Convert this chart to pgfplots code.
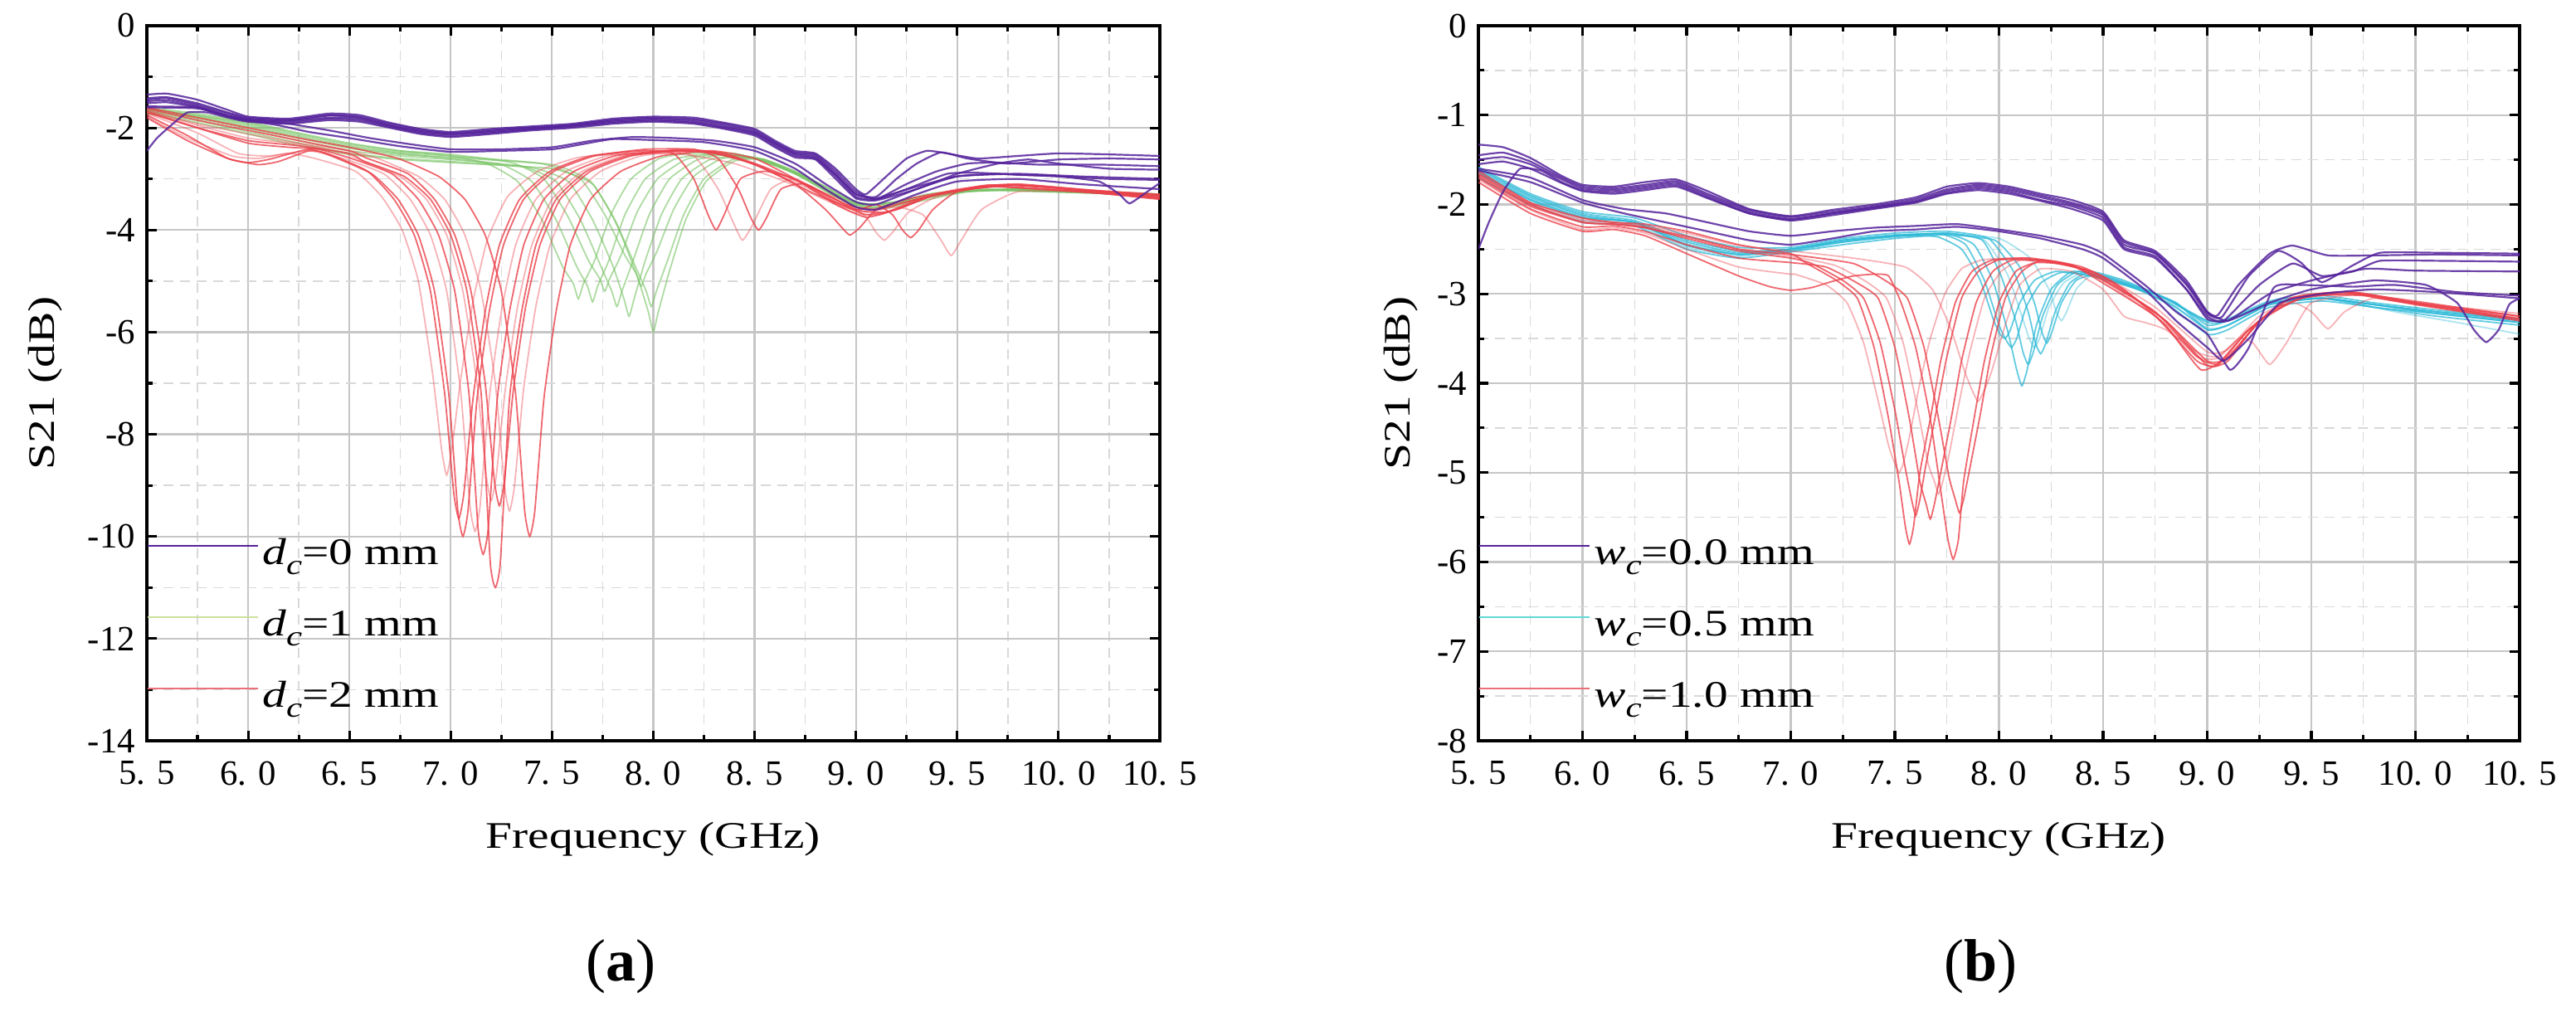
\documentclass[border=0pt]{standalone}
\usepackage{fontspec}
\setmainfont{Liberation Serif}
\newfontfamily\lblfont{Liberation Serif}[FakeStretch=1.27]
\newfontfamily\capfont{Liberation Serif}
\usepackage{pgfplots}
\pgfplotsset{compat=1.18}
\definecolor{purp}{RGB}{85,35,155}
\definecolor{grn}{RGB}{120,195,100}
\definecolor{rd}{RGB}{235,65,75}
\definecolor{cyn}{RGB}{45,185,215}
\definecolor{grnleg}{RGB}{205,225,160}
\definecolor{rdleg}{RGB}{235,110,120}
\definecolor{cynleg}{RGB}{100,215,215}
\newcommand{\sub}[1]{\raisebox{-3.2pt}{\fontsize{8.5}{9}\selectfont\textit{#1}}}
\pgfplotsset{
  pp/.style={color=purp, line width=0.55pt, opacity=0.85, mark=none, smooth, tension=0.3, forget plot},
  gg/.style={color=grn, line width=0.45pt, opacity=0.6, mark=none, smooth, tension=0.3, forget plot},
  rr/.style={color=rd, line width=0.45pt, opacity=0.8, mark=none, smooth, tension=0.3, forget plot},
  rl/.style={color=rd, line width=0.45pt, opacity=0.4, mark=none, smooth, tension=0.3, forget plot},
  cc/.style={color=cyn, line width=0.45pt, opacity=0.75, mark=none, smooth, tension=0.3, forget plot},
  cl/.style={color=cyn, line width=0.45pt, opacity=0.4, mark=none, smooth, tension=0.3, forget plot},
  myaxis/.style={
    scale only axis, height=215.5pt,
    xmin=5.5, xmax=10.5,
    xtick={5.5,6,6.5,7,7.5,8,8.5,9,9.5,10,10.5},
    xticklabels={5. 5,6. 0,6. 5,7. 0,7. 5,8. 0,8. 5,9. 0,9. 5,10. 0,10. 5},
    minor x tick num=1, minor y tick num=1,
    grid=both,
    major grid style={gray!45, line width=0.55pt},
    minor grid style={gray!30, densely dashed, line width=0.35pt},
    tick align=inside, major tick length=3pt, minor tick length=1.8pt,
    tick style={black, line width=0.8pt},
    axis line style={line width=0.9pt},
    tick label style={font=\fontsize{10.7}{12}\selectfont},
    xticklabel style={yshift=-2.7pt},
    label style={font=\lblfont\fontsize{11.3}{13}\selectfont},
    xlabel={Frequency (GHz)},
    xlabel style={at={(axis description cs:0.5,0)}, anchor=base, yshift=-32.5pt},
    ylabel={S21 (dB)},
    legend style={at={(0,0.2842)}, anchor=north west, draw=none, fill=none,
      inner sep=0pt, outer sep=0pt, row sep=10.5pt, column sep=1.0pt,
      font=\lblfont\fontsize{11.3}{13}\selectfont,
      nodes={inner sep=0pt, text height=8pt, text depth=3pt}},
    legend cell align=left,
    legend image code/.code={\draw[##1, line width=0.6pt] (0pt,3.0pt) -- (33.25pt,3.0pt);},
  }
}
\begin{document}
\begin{tikzpicture}
\path[use as bounding box] (0pt,0pt) rectangle (776.25pt,306.5pt);
% ---------------- (a) ----------------
\begin{axis}[myaxis, at={(44.25pt,83.25pt)}, anchor=south west, width=305.25pt,
  ymin=-14, ymax=0, ytick={-14,-12,-10,-8,-6,-4,-2,0},
  yticklabels={-14,-12,-10,-8,-6,-4,-2,0},
  ylabel style={at={(axis description cs:-0.0917,0.5)}, anchor=base}]
\addlegendimage{color=purp}
\addlegendentry{\textit{d}\sub{c}=0 mm}
\addlegendimage{color=grnleg}
\addlegendentry{\textit{d}\sub{c}=1 mm}
\addlegendimage{color=rdleg}
\addlegendentry{\textit{d}\sub{c}=2 mm}
% green
\addplot[gg] coordinates {(5.5,-1.6)(5.75,-1.72)(6.0,-1.88)(6.25,-2.1)(6.5,-2.3)(6.75,-2.45)(7.0,-2.55)(7.18,-2.7)(7.33,-3.05)(7.45,-3.8)(7.55,-4.7)(7.605,-5.05)(7.63,-5.35)(7.655,-5.05)(7.71,-4.6)(7.79,-3.7)(7.89,-3.0)(8.03,-2.6)(8.18,-2.5)(8.4,-2.5)(8.6,-2.72)(8.8,-3.05)(9.0,-3.45)(9.15,-3.5)(9.35,-3.3)(9.6,-3.2)(9.9,-3.22)(10.2,-3.25)(10.5,-3.3)};
\addplot[gg] coordinates {(5.5,-1.65)(5.75,-1.78)(6.0,-1.95)(6.25,-2.18)(6.5,-2.38)(6.75,-2.5)(7.0,-2.6)(7.25,-2.72)(7.4,-3.05)(7.52,-3.8)(7.62,-4.7)(7.675,-5.1)(7.70,-5.41)(7.725,-5.1)(7.78,-4.6)(7.86,-3.7)(7.96,-3.0)(8.1,-2.62)(8.25,-2.52)(8.45,-2.55)(8.65,-2.8)(8.85,-3.15)(9.0,-3.5)(9.2,-3.45)(9.4,-3.28)(9.7,-3.22)(10.0,-3.25)(10.5,-3.32)};
\addplot[gg] coordinates {(5.5,-1.62)(5.75,-1.75)(6.0,-1.9)(6.25,-2.12)(6.5,-2.32)(6.75,-2.45)(7.0,-2.52)(7.3,-2.68)(7.46,-3.0)(7.58,-3.75)(7.68,-4.6)(7.735,-4.95)(7.76,-5.2)(7.785,-4.95)(7.84,-4.5)(7.92,-3.65)(8.02,-3.0)(8.16,-2.62)(8.31,-2.52)(8.5,-2.6)(8.7,-2.9)(8.9,-3.3)(9.05,-3.55)(9.2,-3.5)(9.45,-3.28)(9.7,-3.22)(10.0,-3.25)(10.5,-3.3)};
\addplot[gg] coordinates {(5.5,-1.68)(5.75,-1.82)(6.0,-2.02)(6.25,-2.25)(6.5,-2.45)(6.75,-2.55)(7.0,-2.62)(7.35,-2.75)(7.52,-3.05)(7.64,-3.8)(7.74,-4.7)(7.795,-5.2)(7.82,-5.5)(7.845,-5.2)(7.9,-4.6)(7.98,-3.7)(8.08,-3.0)(8.22,-2.62)(8.37,-2.52)(8.55,-2.62)(8.75,-3.0)(8.95,-3.45)(9.1,-3.55)(9.3,-3.4)(9.55,-3.25)(9.8,-3.22)(10.1,-3.27)(10.5,-3.33)};
\addplot[gg] coordinates {(5.5,-1.7)(5.75,-1.86)(6.0,-2.08)(6.25,-2.3)(6.5,-2.5)(6.75,-2.6)(7.0,-2.66)(7.4,-2.78)(7.58,-3.05)(7.7,-3.8)(7.8,-4.7)(7.855,-5.35)(7.88,-5.69)(7.905,-5.35)(7.96,-4.6)(8.04,-3.7)(8.14,-3.0)(8.28,-2.62)(8.43,-2.55)(8.6,-2.7)(8.8,-3.1)(9.0,-3.55)(9.15,-3.55)(9.35,-3.35)(9.6,-3.22)(9.9,-3.25)(10.2,-3.28)(10.5,-3.34)};
\addplot[gg] coordinates {(5.5,-1.63)(5.75,-1.76)(6.0,-1.92)(6.25,-2.15)(6.5,-2.35)(6.75,-2.48)(7.0,-2.55)(7.45,-2.7)(7.64,-3.0)(7.76,-3.7)(7.86,-4.5)(7.915,-4.85)(7.94,-5.1)(7.965,-4.85)(8.02,-4.4)(8.1,-3.6)(8.2,-2.95)(8.34,-2.6)(8.5,-2.6)(8.7,-2.9)(8.9,-3.35)(9.05,-3.5)(9.25,-3.42)(9.5,-3.25)(9.8,-3.2)(10.1,-3.25)(10.5,-3.3)};
\addplot[gg] coordinates {(5.5,-1.66)(5.75,-1.8)(6.0,-1.98)(6.25,-2.2)(6.5,-2.4)(6.75,-2.52)(7.0,-2.58)(7.5,-2.72)(7.69,-3.05)(7.81,-3.8)(7.91,-4.7)(7.965,-5.2)(7.99,-5.5)(8.015,-5.2)(8.07,-4.6)(8.15,-3.7)(8.25,-3.0)(8.39,-2.62)(8.52,-2.6)(8.7,-2.85)(8.9,-3.3)(9.05,-3.5)(9.25,-3.45)(9.5,-3.25)(9.8,-3.2)(10.1,-3.25)(10.5,-3.3)};
\addplot[gg] coordinates {(5.5,-1.72)(5.75,-1.9)(6.0,-2.12)(6.25,-2.35)(6.5,-2.52)(6.75,-2.62)(7.0,-2.68)(7.5,-2.8)(7.7,-3.1)(7.82,-3.9)(7.92,-4.9)(7.975,-5.6)(8.0,-5.99)(8.025,-5.6)(8.08,-4.8)(8.16,-3.8)(8.26,-3.05)(8.4,-2.65)(8.55,-2.62)(8.75,-2.95)(8.95,-3.45)(9.1,-3.6)(9.3,-3.45)(9.55,-3.25)(9.8,-3.2)(10.1,-3.25)(10.5,-3.3)};
% red
\addplot[rr] coordinates {(5.5,-1.8)(5.7,-2.25)(5.9,-2.6)(6.05,-2.72)(6.15,-2.66)(6.3,-2.45)(6.39,-2.5)(6.59,-2.85)(6.72,-3.4)(6.82,-4.1)(6.9,-5.2)(6.97,-7.2)(7.015,-9.15)(7.04,-9.65)(7.065,-9.15)(7.11,-7.3)(7.17,-5.6)(7.24,-4.3)(7.34,-3.4)(7.49,-2.85)(7.69,-2.55)(7.94,-2.45)(8.1,-2.5)(8.2,-3.0)(8.27,-3.7)(8.31,-4.0)(8.35,-3.7)(8.43,-3.0)(8.55,-2.85)(8.7,-3.0)(8.9,-3.45)(9.05,-3.7)(9.2,-3.6)(9.4,-3.3)(9.65,-3.12)(9.9,-3.15)(10.2,-3.25)(10.5,-3.38)};
\addplot[rr] coordinates {(5.5,-1.75)(5.7,-2.15)(5.9,-2.6)(6.0,-2.68)(6.1,-2.62)(6.3,-2.42)(6.41,-2.55)(6.61,-2.9)(6.74,-3.4)(6.84,-4.1)(6.92,-5.2)(6.99,-7.2)(7.035,-9.5)(7.06,-10.0)(7.085,-9.5)(7.13,-7.3)(7.19,-5.6)(7.26,-4.3)(7.36,-3.4)(7.51,-2.85)(7.71,-2.55)(7.96,-2.42)(8.2,-2.42)(8.32,-2.6)(8.42,-3.2)(8.48,-3.75)(8.52,-4.0)(8.56,-3.75)(8.63,-3.2)(8.75,-3.1)(8.95,-3.5)(9.1,-3.6)(9.3,-3.4)(9.55,-3.2)(9.8,-3.12)(10.1,-3.22)(10.5,-3.32)};
\addplot[rr] coordinates {(5.5,-1.68)(5.75,-2.0)(6.0,-2.3)(6.2,-2.38)(6.35,-2.42)(6.51,-2.6)(6.71,-2.9)(6.84,-3.4)(6.94,-4.1)(7.02,-5.2)(7.09,-7.2)(7.135,-9.85)(7.16,-10.35)(7.185,-9.85)(7.23,-7.3)(7.29,-5.6)(7.36,-4.3)(7.46,-3.4)(7.61,-2.85)(7.81,-2.55)(8.06,-2.45)(8.3,-2.48)(8.5,-2.72)(8.7,-3.1)(8.85,-3.6)(8.93,-3.95)(8.97,-4.1)(9.02,-3.95)(9.1,-3.6)(9.25,-3.4)(9.45,-3.25)(9.7,-3.15)(9.95,-3.2)(10.2,-3.28)(10.5,-3.4)};
\addplot[rr] coordinates {(5.5,-1.7)(5.75,-2.0)(6.0,-2.25)(6.25,-2.35)(6.5,-2.5)(6.57,-2.65)(6.77,-2.95)(6.9,-3.4)(7.0,-4.1)(7.08,-5.2)(7.15,-7.2)(7.195,-10.5)(7.22,-11.0)(7.245,-10.5)(7.29,-7.3)(7.35,-5.6)(7.42,-4.3)(7.52,-3.4)(7.67,-2.85)(7.87,-2.55)(8.12,-2.45)(8.3,-2.5)(8.5,-2.7)(8.75,-3.1)(9.0,-3.6)(9.15,-3.65)(9.35,-3.35)(9.6,-3.15)(9.8,-3.1)(10.1,-3.2)(10.5,-3.35)};
\addplot[rr] coordinates {(5.5,-1.62)(5.75,-1.85)(6.0,-2.05)(6.25,-2.25)(6.5,-2.45)(6.59,-2.6)(6.79,-2.9)(6.92,-3.4)(7.02,-4.1)(7.1,-5.2)(7.17,-7.0)(7.215,-8.9)(7.24,-9.4)(7.265,-8.9)(7.31,-7.1)(7.37,-5.5)(7.44,-4.3)(7.54,-3.4)(7.69,-2.85)(7.89,-2.55)(8.14,-2.42)(8.35,-2.5)(8.55,-2.8)(8.8,-3.3)(9.0,-3.6)(9.1,-3.5)(9.18,-3.7)(9.23,-4.0)(9.27,-4.15)(9.31,-4.0)(9.38,-3.6)(9.5,-3.25)(9.75,-3.12)(10.05,-3.2)(10.5,-3.3)};
\addplot[rl] coordinates {(5.5,-1.66)(5.75,-1.95)(6.0,-2.2)(6.25,-2.32)(6.48,-2.5)(6.55,-2.62)(6.75,-2.95)(6.88,-3.4)(6.98,-4.1)(7.06,-5.2)(7.13,-7.0)(7.175,-8.8)(7.2,-9.3)(7.225,-8.8)(7.27,-7.1)(7.33,-5.5)(7.4,-4.3)(7.5,-3.4)(7.65,-2.85)(7.85,-2.55)(8.1,-2.45)(8.3,-2.5)(8.5,-2.72)(8.75,-3.15)(8.98,-3.65)(9.12,-3.7)(9.3,-3.4)(9.55,-3.18)(9.8,-3.12)(10.1,-3.2)(10.5,-3.32)};
\addplot[rr] coordinates {(5.5,-1.6)(5.75,-1.8)(6.0,-2.0)(6.25,-2.2)(6.5,-2.38)(6.74,-2.6)(6.94,-2.95)(7.07,-3.4)(7.17,-4.1)(7.25,-5.2)(7.32,-7.2)(7.365,-9.5)(7.39,-10.0)(7.415,-9.5)(7.46,-7.3)(7.52,-5.6)(7.59,-4.3)(7.69,-3.4)(7.84,-2.85)(8.04,-2.55)(8.29,-2.45)(8.5,-2.6)(8.7,-3.0)(8.9,-3.5)(9.05,-3.75)(9.2,-3.6)(9.4,-3.3)(9.65,-3.15)(9.9,-3.2)(10.2,-3.28)(10.5,-3.38)};
\addplot[rl] coordinates {(5.5,-1.72)(5.75,-2.1)(5.95,-2.5)(6.1,-2.55)(6.3,-2.45)(6.47,-2.6)(6.67,-2.9)(6.8,-3.4)(6.9,-4.1)(6.98,-5.2)(7.05,-7.2)(7.095,-9.4)(7.12,-9.9)(7.145,-9.4)(7.19,-7.3)(7.25,-5.6)(7.32,-4.3)(7.42,-3.4)(7.57,-2.85)(7.77,-2.55)(8.02,-2.45)(8.2,-2.55)(8.32,-3.2)(8.4,-3.9)(8.44,-4.2)(8.49,-3.9)(8.58,-3.2)(8.7,-3.0)(8.9,-3.4)(9.05,-3.6)(9.25,-3.45)(9.5,-3.2)(9.8,-3.12)(10.1,-3.2)(10.5,-3.32)};
\addplot[rl] coordinates {(5.5,-1.78)(5.7,-2.2)(5.92,-2.55)(6.05,-2.6)(6.2,-2.5)(6.33,-2.6)(6.53,-2.85)(6.66,-3.35)(6.76,-4.0)(6.84,-5.0)(6.91,-6.8)(6.955,-8.3)(6.98,-8.8)(7.005,-8.3)(7.05,-6.9)(7.11,-5.4)(7.18,-4.2)(7.28,-3.35)(7.43,-2.85)(7.63,-2.58)(7.88,-2.5)(8.15,-2.52)(8.4,-2.7)(8.65,-3.05)(8.9,-3.5)(9.05,-3.65)(9.2,-3.55)(9.33,-3.7)(9.42,-4.2)(9.47,-4.5)(9.52,-4.2)(9.62,-3.6)(9.8,-3.25)(10.1,-3.25)(10.5,-3.35)};
\addplot[rl] coordinates {(5.5,-1.65)(5.75,-1.92)(6.0,-2.12)(6.25,-2.3)(6.5,-2.45)(6.64,-2.6)(6.84,-2.95)(6.97,-3.4)(7.07,-4.1)(7.15,-5.2)(7.22,-7.0)(7.265,-9.0)(7.29,-9.5)(7.315,-9.0)(7.36,-7.1)(7.42,-5.5)(7.49,-4.3)(7.59,-3.4)(7.74,-2.85)(7.94,-2.55)(8.19,-2.45)(8.4,-2.55)(8.6,-2.85)(8.8,-3.2)(8.95,-3.45)(9.05,-3.75)(9.1,-4.05)(9.14,-4.2)(9.18,-4.05)(9.26,-3.65)(9.4,-3.35)(9.65,-3.15)(9.9,-3.2)(10.2,-3.28)(10.5,-3.36)};
% purple
\addplot[pp] coordinates {(5.5,-1.35)(5.6,-1.33)(5.75,-1.45)(5.9,-1.65)(6.0,-1.78)(6.2,-1.82)(6.4,-1.72)(6.55,-1.75)(6.7,-1.9)(6.85,-2.02)(7.0,-2.08)(7.2,-2.02)(7.4,-1.97)(7.6,-1.92)(7.8,-1.82)(8.0,-1.78)(8.2,-1.8)(8.35,-1.9)(8.5,-2.02)(8.6,-2.25)(8.7,-2.45)(8.8,-2.5)(8.9,-2.8)(9.0,-3.2)(9.05,-3.3)(9.15,-2.95)(9.25,-2.6)(9.35,-2.45)(9.45,-2.5)(9.6,-2.6)(9.8,-2.55)(10.0,-2.5)(10.25,-2.52)(10.5,-2.55)};
\addplot[pp] coordinates {(5.5,-1.45)(5.6,-1.42)(5.75,-1.55)(5.9,-1.72)(6.0,-1.82)(6.2,-1.86)(6.4,-1.76)(6.55,-1.8)(6.7,-1.95)(6.85,-2.08)(7.0,-2.13)(7.2,-2.06)(7.4,-2.0)(7.6,-1.95)(7.8,-1.86)(8.0,-1.82)(8.2,-1.85)(8.35,-1.95)(8.5,-2.08)(8.6,-2.3)(8.7,-2.5)(8.8,-2.55)(8.9,-2.9)(9.0,-3.3)(9.1,-3.35)(9.2,-3.0)(9.3,-2.7)(9.42,-2.48)(9.55,-2.6)(9.75,-2.7)(10.0,-2.62)(10.25,-2.6)(10.5,-2.62)};
\addplot[pp] coordinates {(5.5,-1.52)(5.6,-1.5)(5.75,-1.6)(5.9,-1.78)(6.0,-1.86)(6.2,-1.9)(6.4,-1.82)(6.55,-1.85)(6.7,-1.98)(6.85,-2.1)(7.0,-2.16)(7.2,-2.1)(7.4,-2.03)(7.6,-1.98)(7.8,-1.9)(8.0,-1.86)(8.2,-1.9)(8.35,-2.0)(8.5,-2.12)(8.6,-2.35)(8.7,-2.55)(8.8,-2.6)(8.9,-2.95)(9.0,-3.35)(9.1,-3.4)(9.25,-3.1)(9.4,-2.85)(9.55,-2.7)(9.7,-2.68)(9.9,-2.72)(10.2,-2.72)(10.5,-2.75)};
\addplot[pp] coordinates {(5.5,-2.45)(5.55,-2.2)(5.62,-1.95)(5.7,-1.7)(5.8,-1.7)(5.9,-1.8)(6.0,-1.88)(6.2,-1.92)(6.4,-1.85)(6.55,-1.88)(6.7,-2.0)(6.85,-2.12)(7.0,-2.18)(7.2,-2.12)(7.4,-2.05)(7.6,-2.0)(7.8,-1.92)(8.0,-1.88)(8.2,-1.92)(8.35,-2.02)(8.5,-2.15)(8.6,-2.38)(8.7,-2.58)(8.8,-2.62)(8.9,-3.0)(9.0,-3.38)(9.1,-3.42)(9.3,-3.2)(9.5,-2.9)(9.7,-2.7)(9.85,-2.62)(10.0,-2.7)(10.25,-2.8)(10.5,-2.82)};
\addplot[pp] coordinates {(5.5,-1.48)(5.6,-1.46)(5.75,-1.58)(5.9,-1.76)(6.0,-1.84)(6.2,-1.87)(6.4,-1.8)(6.55,-1.82)(6.7,-1.96)(6.85,-2.06)(7.0,-2.12)(7.2,-2.08)(7.4,-2.02)(7.6,-1.96)(7.8,-1.88)(8.0,-1.84)(8.2,-1.88)(8.35,-1.98)(8.5,-2.1)(8.6,-2.32)(8.7,-2.52)(8.8,-2.58)(8.9,-2.92)(9.0,-3.3)(9.1,-3.38)(9.3,-3.15)(9.5,-2.95)(9.7,-2.9)(10.0,-2.95)(10.25,-3.0)(10.5,-3.02)};
\addplot[pp] coordinates {(5.5,-1.42)(5.6,-1.4)(5.75,-1.52)(5.9,-1.7)(6.0,-1.8)(6.2,-1.84)(6.4,-1.75)(6.55,-1.78)(6.7,-1.92)(6.85,-2.04)(7.0,-2.1)(7.2,-2.04)(7.4,-1.99)(7.6,-1.94)(7.8,-1.84)(8.0,-1.8)(8.2,-1.83)(8.35,-1.92)(8.5,-2.05)(8.6,-2.28)(8.7,-2.48)(8.8,-2.52)(8.9,-2.85)(9.0,-3.25)(9.1,-3.4)(9.25,-3.2)(9.45,-2.9)(9.6,-2.88)(9.8,-2.92)(10.0,-2.95)(10.2,-3.05)(10.3,-3.3)(10.35,-3.48)(10.42,-3.3)(10.5,-3.08)};
\addplot[pp] coordinates {(5.5,-1.6)(5.75,-1.62)(5.9,-1.78)(6.0,-1.86)(6.15,-1.95)(6.3,-2.08)(6.5,-2.2)(6.75,-2.36)(7.0,-2.47)(7.25,-2.45)(7.5,-2.42)(7.65,-2.32)(7.8,-2.22)(8.0,-2.24)(8.25,-2.28)(8.5,-2.45)(8.7,-2.8)(8.85,-3.2)(9.0,-3.55)(9.1,-3.6)(9.3,-3.3)(9.5,-3.05)(9.8,-3.0)(10.1,-3.1)(10.5,-3.2)};
\addplot[pp] coordinates {(5.5,-1.58)(5.75,-1.6)(5.9,-1.76)(6.0,-1.84)(6.2,-1.92)(6.4,-2.05)(6.6,-2.2)(6.8,-2.32)(7.0,-2.42)(7.25,-2.42)(7.5,-2.38)(7.7,-2.25)(7.9,-2.18)(8.1,-2.2)(8.3,-2.25)(8.5,-2.38)(8.7,-2.7)(8.85,-3.1)(9.0,-3.45)(9.1,-3.5)(9.3,-3.2)(9.5,-2.95)(9.8,-2.9)(10.1,-2.95)(10.5,-3.0)};
\end{axis}
% ---------------- (b) ----------------
\begin{axis}[myaxis, at={(445.5pt,83.25pt)}, anchor=south west, width=313.75pt,
  ymin=-8, ymax=0, ytick={-8,-7,-6,-5,-4,-3,-2,-1,0},
  yticklabels={-8,-7,-6,-5,-4,-3,-2,-1,0},
  ylabel style={at={(axis description cs:-0.0661,0.5)}, anchor=base}]
\addlegendimage{color=purp}
\addlegendentry{\textit{w}\sub{c}=0.0 mm}
\addlegendimage{color=cynleg}
\addlegendentry{\textit{w}\sub{c}=0.5 mm}
\addlegendimage{color=rdleg}
\addlegendentry{\textit{w}\sub{c}=1.0 mm}
% cyan
\addplot[cc] coordinates {(5.5,-1.6)(5.75,-1.9)(6.0,-2.1)(6.25,-2.18)(6.5,-2.4)(6.75,-2.52)(7.0,-2.5)(7.25,-2.4)(7.5,-2.34)(7.75,-2.33)(7.88,-2.45)(7.97,-2.85)(8.04,-3.4)(8.085,-3.85)(8.11,-4.03)(8.135,-3.85)(8.18,-3.35)(8.25,-2.95)(8.35,-2.75)(8.5,-2.8)(8.7,-2.95)(8.85,-3.1)(9.0,-3.35)(9.1,-3.3)(9.3,-3.1)(9.55,-3.05)(9.8,-3.12)(10.1,-3.2)(10.5,-3.3)};
\addplot[cc] coordinates {(5.5,-1.65)(5.75,-1.95)(6.0,-2.15)(6.25,-2.2)(6.5,-2.45)(6.75,-2.56)(7.0,-2.52)(7.25,-2.42)(7.5,-2.36)(7.75,-2.32)(7.92,-2.4)(8.01,-2.8)(8.08,-3.3)(8.115,-3.65)(8.14,-3.79)(8.165,-3.65)(8.21,-3.25)(8.28,-2.9)(8.38,-2.75)(8.5,-2.82)(8.7,-2.98)(8.85,-3.15)(9.0,-3.4)(9.1,-3.35)(9.3,-3.12)(9.55,-3.05)(9.8,-3.15)(10.1,-3.22)(10.5,-3.32)};
\addplot[cc] coordinates {(5.5,-1.58)(5.75,-1.88)(6.0,-2.08)(6.25,-2.15)(6.5,-2.35)(6.75,-2.48)(7.0,-2.48)(7.25,-2.38)(7.5,-2.32)(7.75,-2.3)(7.95,-2.38)(8.07,-2.75)(8.14,-3.2)(8.175,-3.55)(8.2,-3.67)(8.225,-3.55)(8.27,-3.2)(8.34,-2.88)(8.44,-2.75)(8.6,-2.85)(8.8,-3.05)(9.0,-3.3)(9.1,-3.28)(9.3,-3.08)(9.55,-3.02)(9.8,-3.1)(10.1,-3.18)(10.5,-3.28)};
\addplot[cc] coordinates {(5.5,-1.7)(5.75,-2.0)(6.0,-2.2)(6.25,-2.24)(6.5,-2.5)(6.75,-2.6)(7.0,-2.53)(7.25,-2.45)(7.5,-2.38)(7.75,-2.34)(7.98,-2.4)(8.1,-2.7)(8.17,-3.1)(8.205,-3.42)(8.23,-3.55)(8.255,-3.42)(8.3,-3.1)(8.37,-2.85)(8.47,-2.78)(8.6,-2.88)(8.8,-3.1)(9.0,-3.45)(9.1,-3.4)(9.3,-3.15)(9.55,-3.08)(9.8,-3.15)(10.1,-3.25)(10.5,-3.35)};
\addplot[cc] coordinates {(5.5,-1.62)(5.75,-1.92)(6.0,-2.12)(6.25,-2.2)(6.5,-2.42)(6.75,-2.54)(7.0,-2.5)(7.25,-2.4)(7.5,-2.35)(7.7,-2.36)(7.82,-2.5)(7.91,-2.85)(7.975,-3.3)(8.005,-3.45)(8.03,-3.5)(8.055,-3.4)(8.1,-3.1)(8.17,-2.85)(8.27,-2.75)(8.4,-2.78)(8.6,-2.9)(8.8,-3.05)(9.0,-3.32)(9.1,-3.3)(9.3,-3.1)(9.55,-3.05)(9.8,-3.12)(10.1,-3.2)(10.5,-3.28)};
\addplot[cl] coordinates {(5.5,-1.66)(5.75,-1.96)(6.0,-2.18)(6.25,-2.22)(6.5,-2.48)(6.75,-2.58)(7.0,-2.5)(7.25,-2.42)(7.5,-2.36)(7.75,-2.33)(8.0,-2.38)(8.15,-2.6)(8.24,-2.95)(8.275,-3.2)(8.3,-3.3)(8.325,-3.2)(8.37,-2.95)(8.44,-2.8)(8.55,-2.82)(8.75,-3.0)(9.0,-3.3)(9.15,-3.25)(9.35,-3.05)(9.6,-3.05)(9.9,-3.2)(10.2,-3.32)(10.5,-3.45)};
\addplot[cl] coordinates {(5.5,-1.6)(5.75,-1.9)(6.0,-2.12)(6.25,-2.2)(6.5,-2.44)(6.75,-2.55)(7.0,-2.5)(7.25,-2.4)(7.5,-2.35)(7.75,-2.32)(7.93,-2.4)(8.04,-2.78)(8.11,-3.25)(8.145,-3.5)(8.17,-3.6)(8.195,-3.5)(8.24,-3.15)(8.31,-2.88)(8.41,-2.76)(8.55,-2.85)(8.75,-3.0)(9.0,-3.38)(9.1,-3.35)(9.3,-3.12)(9.55,-3.05)(9.8,-3.12)(10.1,-3.22)(10.5,-3.3)};
\addplot[cc] coordinates {(5.5,-1.64)(5.75,-1.94)(6.0,-2.14)(6.25,-2.2)(6.5,-2.46)(6.75,-2.56)(7.0,-2.5)(7.25,-2.42)(7.5,-2.35)(7.72,-2.33)(7.84,-2.45)(7.93,-2.85)(8.0,-3.35)(8.035,-3.52)(8.06,-3.6)(8.085,-3.5)(8.13,-3.15)(8.2,-2.88)(8.3,-2.76)(8.45,-2.8)(8.65,-2.92)(8.85,-3.1)(9.0,-3.4)(9.1,-3.35)(9.3,-3.12)(9.55,-3.05)(9.8,-3.12)(10.1,-3.22)(10.5,-3.32)};
% red
\addplot[rr] coordinates {(5.5,-1.62)(5.75,-1.98)(6.0,-2.15)(6.15,-2.2)(6.3,-2.22)(6.5,-2.3)(6.75,-2.45)(7.0,-2.55)(7.07,-2.65)(7.22,-2.85)(7.32,-3.05)(7.4,-3.6)(7.47,-4.4)(7.52,-5.1)(7.55,-5.6)(7.57,-5.8)(7.59,-5.6)(7.62,-5.0)(7.67,-4.4)(7.72,-3.75)(7.79,-3.1)(7.87,-2.75)(7.97,-2.62)(8.15,-2.6)(8.35,-2.68)(8.5,-2.85)(8.75,-3.2)(8.95,-3.7)(9.05,-3.78)(9.2,-3.4)(9.4,-3.05)(9.65,-2.98)(9.9,-3.05)(10.2,-3.15)(10.5,-3.25)};
\addplot[rr] coordinates {(5.5,-1.68)(5.75,-2.02)(6.0,-2.2)(6.15,-2.22)(6.3,-2.26)(6.5,-2.38)(6.75,-2.52)(7.0,-2.6)(7.1,-2.66)(7.25,-2.85)(7.35,-3.05)(7.43,-3.55)(7.5,-4.3)(7.55,-4.95)(7.58,-5.3)(7.60,-5.48)(7.62,-5.3)(7.65,-4.9)(7.7,-4.3)(7.75,-3.7)(7.82,-3.05)(7.9,-2.75)(8.0,-2.62)(8.2,-2.62)(8.4,-2.72)(8.55,-2.9)(8.8,-3.3)(9.0,-3.8)(9.1,-3.75)(9.25,-3.3)(9.45,-3.05)(9.7,-3.0)(10.0,-3.1)(10.5,-3.28)};
\addplot[rr] coordinates {(5.5,-1.7)(5.75,-2.05)(6.0,-2.25)(6.15,-2.24)(6.3,-2.3)(6.5,-2.45)(6.75,-2.6)(7.0,-2.65)(7.17,-2.7)(7.32,-2.88)(7.42,-3.05)(7.5,-3.6)(7.57,-4.4)(7.62,-5.1)(7.65,-5.35)(7.67,-5.52)(7.69,-5.35)(7.72,-5.0)(7.77,-4.4)(7.82,-3.75)(7.89,-3.1)(7.97,-2.75)(8.07,-2.62)(8.25,-2.65)(8.45,-2.75)(8.6,-2.95)(8.8,-3.35)(8.97,-3.85)(9.1,-3.7)(9.3,-3.2)(9.5,-3.02)(9.75,-3.02)(10.0,-3.12)(10.5,-3.3)};
\addplot[rl] coordinates {(5.5,-1.65)(5.75,-2.0)(6.0,-2.18)(6.15,-2.2)(6.3,-2.25)(6.5,-2.35)(6.75,-2.5)(7.0,-2.58)(7.21,-2.68)(7.36,-2.86)(7.46,-3.05)(7.54,-3.55)(7.61,-4.3)(7.66,-4.9)(7.69,-5.1)(7.71,-5.24)(7.73,-5.1)(7.76,-4.8)(7.81,-4.2)(7.86,-3.65)(7.93,-3.05)(8.01,-2.75)(8.11,-2.62)(8.3,-2.65)(8.5,-2.85)(8.75,-3.25)(8.95,-3.7)(9.05,-3.72)(9.15,-3.5)(9.22,-3.55)(9.3,-3.79)(9.38,-3.55)(9.5,-3.1)(9.75,-3.0)(10.0,-3.1)(10.5,-3.27)};
\addplot[rr] coordinates {(5.5,-1.75)(5.75,-2.1)(6.0,-2.3)(6.15,-2.28)(6.3,-2.35)(6.5,-2.55)(6.75,-2.8)(6.9,-2.92)(7.0,-2.96)(7.1,-2.93)(7.2,-2.86)(7.3,-2.8)(7.4,-2.78)(7.47,-2.8)(7.53,-3.1)(7.6,-3.6)(7.67,-4.4)(7.72,-5.2)(7.755,-5.75)(7.78,-5.97)(7.805,-5.75)(7.83,-5.1)(7.88,-4.4)(7.93,-3.75)(8.0,-3.1)(8.08,-2.75)(8.18,-2.65)(8.35,-2.68)(8.5,-2.88)(8.75,-3.25)(8.95,-3.75)(9.05,-3.8)(9.2,-3.4)(9.4,-3.05)(9.65,-2.98)(9.9,-3.08)(10.2,-3.18)(10.5,-3.28)};
\addplot[rr] coordinates {(5.5,-1.66)(5.75,-2.0)(6.0,-2.2)(6.15,-2.22)(6.3,-2.26)(6.5,-2.36)(6.75,-2.5)(7.0,-2.56)(7.3,-2.66)(7.46,-2.86)(7.56,-3.05)(7.64,-3.6)(7.71,-4.4)(7.76,-5.05)(7.79,-5.3)(7.81,-5.45)(7.83,-5.3)(7.86,-4.95)(7.91,-4.35)(7.96,-3.7)(8.03,-3.05)(8.11,-2.75)(8.21,-2.62)(8.4,-2.7)(8.55,-2.88)(8.8,-3.3)(9.0,-3.75)(9.1,-3.72)(9.25,-3.3)(9.45,-3.05)(9.7,-2.98)(10.0,-3.1)(10.5,-3.25)};
\addplot[rl] coordinates {(5.5,-1.64)(5.75,-1.98)(6.0,-2.16)(6.15,-2.2)(6.3,-2.24)(6.5,-2.32)(6.75,-2.46)(7.0,-2.52)(7.3,-2.6)(7.55,-2.7)(7.68,-2.95)(7.77,-3.4)(7.84,-3.9)(7.9,-4.2)(7.96,-3.9)(8.03,-3.35)(8.1,-2.9)(8.2,-2.72)(8.35,-2.75)(8.5,-2.95)(8.6,-3.25)(8.7,-3.32)(8.8,-3.4)(8.95,-3.65)(9.05,-3.7)(9.2,-3.4)(9.4,-3.1)(9.5,-3.2)(9.58,-3.39)(9.66,-3.2)(9.8,-3.05)(10.1,-3.15)(10.5,-3.3)};
\addplot[rl] coordinates {(5.5,-1.72)(5.75,-2.06)(6.0,-2.28)(6.15,-2.26)(6.3,-2.32)(6.5,-2.5)(6.75,-2.7)(7.0,-2.78)(7.02,-2.78)(7.17,-2.9)(7.27,-3.1)(7.35,-3.55)(7.42,-4.2)(7.47,-4.7)(7.5,-4.9)(7.52,-5.0)(7.54,-4.9)(7.57,-4.6)(7.62,-4.0)(7.67,-3.5)(7.74,-3.0)(7.82,-2.72)(7.92,-2.62)(8.1,-2.6)(8.3,-2.66)(8.5,-2.8)(8.75,-3.15)(9.0,-3.65)(9.1,-3.62)(9.25,-3.25)(9.45,-3.02)(9.7,-2.98)(10.0,-3.1)(10.5,-3.22)};
% purple
\addplot[pp] coordinates {(5.5,-1.33)(5.62,-1.36)(5.75,-1.48)(5.9,-1.68)(6.0,-1.78)(6.15,-1.8)(6.3,-1.75)(6.45,-1.72)(6.6,-1.85)(6.8,-2.05)(7.0,-2.13)(7.2,-2.06)(7.4,-2.0)(7.6,-1.92)(7.75,-1.8)(7.9,-1.76)(8.05,-1.8)(8.2,-1.88)(8.35,-1.95)(8.5,-2.08)(8.6,-2.4)(8.75,-2.52)(8.9,-2.85)(9.0,-3.2)(9.05,-3.24)(9.15,-2.9)(9.3,-2.55)(9.41,-2.46)(9.58,-2.57)(9.8,-2.57)(10.1,-2.56)(10.5,-2.57)};
\addplot[pp] coordinates {(5.5,-1.5)(5.62,-1.47)(5.75,-1.55)(5.9,-1.72)(6.0,-1.82)(6.15,-1.84)(6.3,-1.8)(6.45,-1.76)(6.6,-1.9)(6.8,-2.08)(7.0,-2.16)(7.2,-2.1)(7.4,-2.03)(7.6,-1.96)(7.75,-1.85)(7.9,-1.8)(8.05,-1.84)(8.2,-1.92)(8.35,-2.0)(8.5,-2.12)(8.6,-2.45)(8.75,-2.55)(8.9,-2.9)(9.0,-3.22)(9.07,-3.26)(9.2,-2.8)(9.34,-2.52)(9.45,-2.65)(9.55,-2.87)(9.7,-2.68)(9.83,-2.54)(10.1,-2.54)(10.5,-2.55)};
\addplot[pp] coordinates {(5.5,-1.55)(5.62,-1.52)(5.75,-1.6)(5.9,-1.76)(6.0,-1.85)(6.15,-1.88)(6.3,-1.84)(6.45,-1.8)(6.6,-1.93)(6.8,-2.1)(7.0,-2.18)(7.2,-2.12)(7.4,-2.05)(7.6,-1.98)(7.75,-1.88)(7.9,-1.84)(8.05,-1.88)(8.2,-1.96)(8.35,-2.05)(8.5,-2.18)(8.6,-2.5)(8.75,-2.6)(8.9,-2.95)(9.0,-3.25)(9.08,-3.3)(9.25,-2.9)(9.41,-2.66)(9.55,-2.8)(9.7,-2.75)(9.83,-2.63)(10.1,-2.63)(10.5,-2.64)};
\addplot[pp] coordinates {(5.5,-2.5)(5.55,-2.2)(5.62,-1.85)(5.7,-1.6)(5.8,-1.62)(5.9,-1.75)(6.0,-1.84)(6.15,-1.86)(6.3,-1.82)(6.45,-1.78)(6.6,-1.92)(6.8,-2.1)(7.0,-2.17)(7.2,-2.1)(7.4,-2.04)(7.6,-1.97)(7.75,-1.87)(7.9,-1.82)(8.05,-1.86)(8.2,-1.95)(8.35,-2.02)(8.5,-2.15)(8.6,-2.48)(8.75,-2.58)(8.9,-2.95)(9.0,-3.28)(9.1,-3.3)(9.3,-3.0)(9.5,-2.85)(9.76,-2.72)(10.0,-2.74)(10.5,-2.75)};
\addplot[pp] coordinates {(5.5,-1.45)(5.62,-1.42)(5.75,-1.52)(5.9,-1.7)(6.0,-1.8)(6.15,-1.82)(6.3,-1.78)(6.45,-1.74)(6.6,-1.88)(6.8,-2.06)(7.0,-2.14)(7.2,-2.08)(7.4,-2.02)(7.6,-1.94)(7.75,-1.83)(7.9,-1.78)(8.05,-1.82)(8.2,-1.9)(8.35,-1.98)(8.5,-2.1)(8.6,-2.42)(8.75,-2.54)(8.9,-2.88)(9.0,-3.2)(9.1,-3.3)(9.3,-3.1)(9.5,-2.95)(9.8,-2.85)(10.05,-2.9)(10.2,-3.1)(10.28,-3.4)(10.34,-3.54)(10.4,-3.4)(10.45,-3.12)(10.5,-3.05)};
\addplot[pp] coordinates {(5.5,-1.6)(5.75,-1.7)(6.0,-1.95)(6.2,-2.05)(6.4,-2.1)(6.6,-2.2)(6.8,-2.3)(7.0,-2.35)(7.2,-2.3)(7.4,-2.26)(7.6,-2.24)(7.8,-2.22)(8.0,-2.28)(8.2,-2.35)(8.4,-2.45)(8.5,-2.55)(8.7,-2.9)(8.85,-3.2)(9.0,-3.45)(9.11,-3.85)(9.2,-3.6)(9.32,-2.93)(9.45,-2.9)(9.7,-2.92)(9.9,-2.9)(10.2,-2.98)(10.5,-3.02)};
\addplot[pp] coordinates {(5.5,-1.62)(5.75,-1.75)(6.0,-1.98)(6.2,-2.1)(6.4,-2.2)(6.6,-2.3)(6.8,-2.4)(7.0,-2.45)(7.2,-2.38)(7.4,-2.3)(7.6,-2.28)(7.8,-2.25)(8.0,-2.3)(8.2,-2.38)(8.4,-2.5)(8.5,-2.6)(8.7,-2.95)(8.85,-3.3)(9.0,-3.6)(9.08,-3.75)(9.2,-3.5)(9.35,-3.1)(9.55,-3.0)(9.8,-2.95)(10.1,-2.98)(10.5,-3.05)};
\end{axis}
\node[anchor=base] at (187pt,10.75pt) {\capfont\fontsize{18}{20}\selectfont(\textbf{a})};
\node[anchor=base] at (596.75pt,10.75pt) {\capfont\fontsize{18}{20}\selectfont(\textbf{b})};
\end{tikzpicture}
\end{document}
